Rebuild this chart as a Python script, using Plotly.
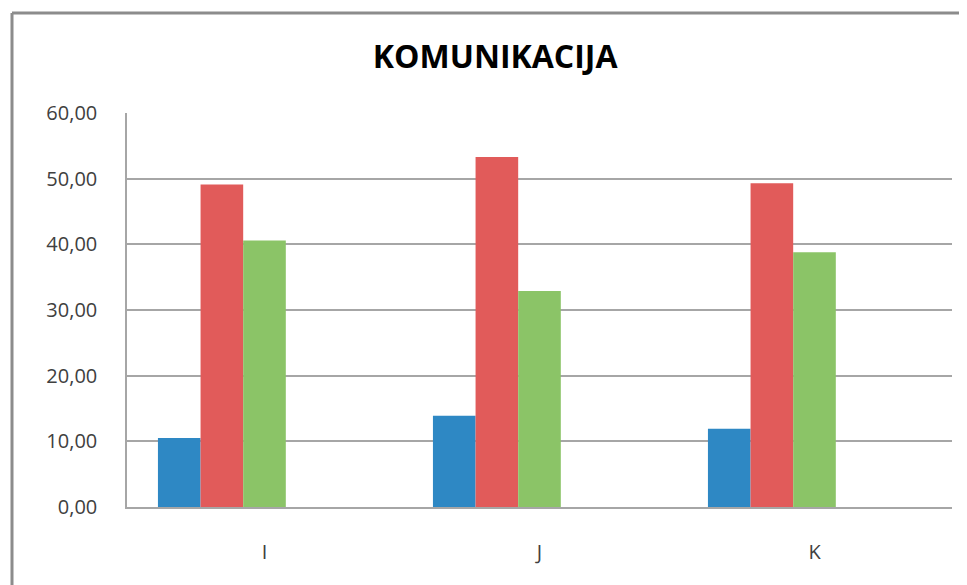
import plotly.graph_objects as go

categories = ["I", "J", "K"]
series_names = ["S1", "S2", "S3", "S4", "S5"]
series_1 = [10.5, 13.9, 11.9]
series_2 = [49.1, 53.3, 49.3]
series_3 = [40.6, 32.9, 38.8]
series_4 = [None, None, None]
series_5 = [None, None, None]
colors = ["#2E88C4", "#E15B5A", "#8BC467", "#8064A2", "#4BACC6"]

fig = go.Figure()
for name, vals, col in zip(series_names,
                           [series_1, series_2, series_3, series_4, series_5],
                           colors):
    fig.add_trace(go.Bar(x=categories, y=vals, name=name,
                         marker=dict(color=col, line=dict(width=0))))

# page body has an 8px margin, so size/margins are shifted to compensate
fig.update_layout(
    width=959, height=577,
    barmode="group",
    bargap=0.225,
    bargroupgap=0,
    separators=",.",
    showlegend=False,
    paper_bgcolor="white",
    plot_bgcolor="white",
    font=dict(family="Open Sans, sans-serif", color="#404040", size=20),
    title=dict(text="<b>KOMUNIKACIJA</b>", x=0.508, xanchor="center",
               y=0.916, yanchor="middle",
               font=dict(size=32, color="black", family="Open Sans, sans-serif")),
    margin=dict(l=119, r=15, t=105, b=78),
    xaxis=dict(showgrid=False, showline=True, linecolor="#A6A6A6", linewidth=2,
               ticks="", ticklabelstandoff=26,
               tickfont=dict(size=20, color="#404040")),
    yaxis=dict(range=[0, 60], dtick=10, tickformat=".2f", showgrid=True,
               gridcolor="#A6A6A6", gridwidth=1.5, showline=True,
               linecolor="#A6A6A6", linewidth=1.5, ticks="", ticklabelstandoff=24,
               zeroline=False, tickfont=dict(size=20, color="#404040")),
)

# outer chart frame (left and top edges visible)
fig.add_shape(type="line", xref="paper", yref="paper",
              x0=-115/825, x1=-115/825, y0=-2, y1=494/394,
              line=dict(color="#8C8C8C", width=3))
fig.add_shape(type="line", xref="paper", yref="paper",
              x0=-115/825, x1=2, y0=494/394, y1=494/394,
              line=dict(color="#8C8C8C", width=3))

fig.write_html("out.html")
